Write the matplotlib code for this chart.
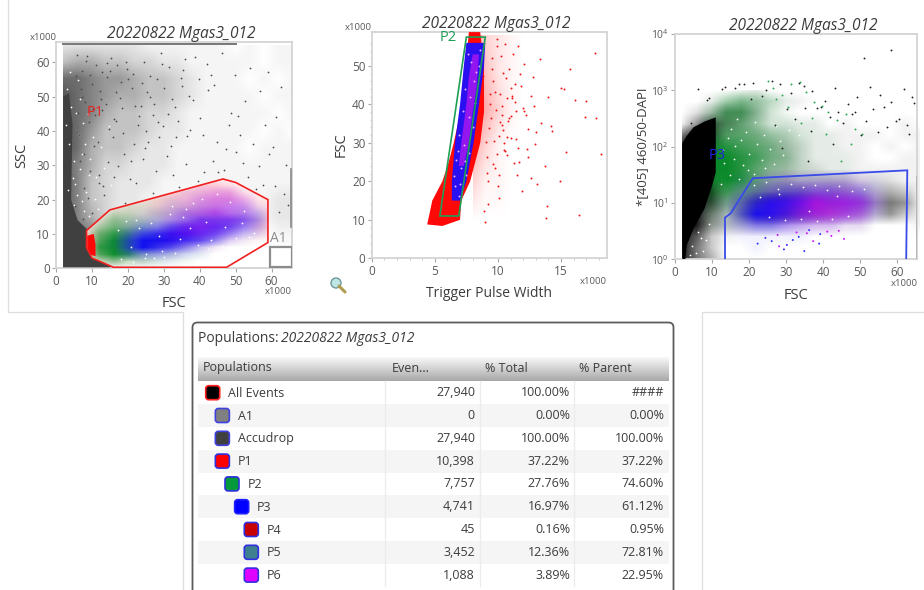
import numpy as np
import matplotlib
matplotlib.use('Agg')
import matplotlib.pyplot as plt
from matplotlib.colors import to_rgb
from matplotlib.patches import FancyBboxPatch, Polygon, Rectangle, Circle

plt.rcParams['font.family'] = ['Open Sans', 'DejaVu Sans']

TITLE = '20220822 Mgas3_012'
TEXT = '#3c3c3c'
TICK = '#5a5a5a'
FRAME = '#d4d4d4'

# ----- gates (data units) -----
P1_GATE_X = [8.5, 15, 46.5, 50, 59, 59, 47.5, 16, 10, 8.5]
P1_GATE_Y = [11, 17, 26, 25, 20, 7.5, 0.3, 0.3, 3, 6]
P2_GATE_X = [5.4, 6.9, 9.0, 7.5]
P2_GATE_Y = [11, 11, 57.5, 57.5]
P3_GATE_X = [13.5, 13.5, 15, 21, 62.7, 62.4]
P3_GATE_Y = [1, 5.5, 6.5, 27.5, 38, 1]

# ----- panel 1: density read per grid node, rows from SSC=0 upwards -----
P1_X = [2, 6, 10, 14, 18, 22, 26, 30, 34, 38, 42, 46, 50, 54, 58, 62, 66]
P1_Y = [0, 5, 10, 15, 20, 25, 30, 35, 40, 45, 50, 55, 60, 65]
P1_GREY = [
    [9, 9, 9, 9, 2, 0, 0, 0, 0, 0, 0, 0, 0, 0, 0, 0, 0],
    [9, 9, 9, 6, 0, 0, 0, 0, 0, 0, 0, 0, 0, 0, 0, 0, 0],
    [9, 8, 7, 2, 0, 0, 0, 0, 0, 0, 0, 0, 0, 0, 0, 1, 1],
    [9, 7, 5, 3, 1, 0, 0, 0, 0, 0, 0, 0, 0, 0, 1, 2, 2],
    [9, 7, 4, 3, 2, 2, 1, 1, 0, 0, 0, 0, 0, 1, 1, 2, 2],
    [9, 7, 4, 3, 2, 2, 2, 1, 1, 1, 1, 1, 1, 1, 1, 1, 1],
    [9, 7, 5, 3, 3, 2, 2, 2, 1, 1, 1, 1, 1, 1, 1, 1, 1],
    [9, 8, 5, 4, 4, 3, 2, 2, 1, 1, 1, 1, 1, 0, 1, 1, 1],
    [9, 8, 6, 4, 4, 4, 3, 2, 2, 1, 1, 1, 1, 1, 0, 1, 0],
    [9, 8, 7, 5, 4, 4, 3, 3, 2, 1, 1, 1, 1, 1, 1, 0, 1],
    [9, 8, 7, 6, 5, 5, 4, 4, 3, 2, 1, 1, 1, 1, 0, 1, 1],
    [8, 8, 7, 6, 6, 5, 4, 4, 3, 2, 1, 1, 1, 0, 1, 0, 1],
    [4, 5, 5, 4, 4, 3, 3, 2, 2, 1, 1, 1, 1, 1, 0, 1, 1],
    [2, 2, 2, 2, 2, 2, 1, 1, 1, 1, 1, 1, 0, 1, 0, 1, 1],
]

P1C_X = [8, 12, 16, 20, 24, 28, 32, 36, 40, 44, 48, 52, 56, 60]
P1C_Y = [0, 2, 4, 6, 8, 10, 12, 14, 16, 18, 20, 22, 24, 26]
P1_RED = [
    [0, 0, 1, 0, 0, 0, 0, 0, 0, 0, 0, 0, 0, 0],
    [0, 2, 2, 1, 1, 0, 0, 0, 0, 0, 0, 0, 0, 0],
    [2, 3, 2, 1, 1, 1, 1, 0, 0, 0, 0, 0, 0, 0],
    [4, 3, 2, 1, 1, 1, 1, 1, 1, 1, 0, 0, 0, 0],
    [4, 3, 2, 1, 1, 1, 1, 1, 1, 1, 1, 1, 1, 1],
    [3, 3, 2, 2, 1, 1, 1, 1, 1, 1, 1, 1, 2, 2],
    [2, 2, 2, 2, 1, 1, 2, 2, 1, 1, 1, 1, 3, 3],
    [0, 2, 2, 2, 2, 2, 2, 2, 2, 2, 2, 2, 3, 3],
    [0, 1, 2, 2, 2, 3, 3, 3, 3, 3, 2, 2, 2, 3],
    [0, 0, 2, 2, 2, 3, 3, 3, 3, 3, 2, 2, 2, 2],
    [0, 0, 0, 1, 2, 3, 3, 3, 3, 3, 3, 2, 2, 2],
    [0, 0, 0, 0, 0, 2, 3, 3, 3, 3, 3, 2, 1, 0],
    [0, 0, 0, 0, 0, 0, 1, 2, 3, 3, 2, 1, 0, 0],
    [0, 0, 0, 0, 0, 0, 0, 0, 0, 1, 1, 0, 0, 0],
]
P1_GREEN = [
    [0, 0, 0, 1, 0, 0, 0, 0, 0, 0, 0, 0, 0, 0],
    [0, 3, 5, 3, 3, 2, 1, 1, 0, 0, 0, 0, 0, 0],
    [0, 7, 9, 8, 4, 2, 2, 1, 1, 0, 0, 0, 0, 0],
    [0, 8, 9, 8, 4, 2, 1, 1, 0, 0, 0, 0, 0, 0],
    [0, 7, 9, 8, 4, 2, 1, 0, 0, 0, 0, 0, 0, 0],
    [0, 6, 8, 7, 4, 2, 1, 1, 0, 0, 0, 0, 0, 0],
    [0, 4, 6, 5, 4, 2, 1, 1, 0, 0, 0, 0, 0, 0],
    [0, 2, 5, 4, 3, 2, 1, 1, 1, 1, 0, 0, 0, 0],
    [0, 0, 3, 3, 2, 2, 1, 1, 1, 0, 0, 0, 0, 0],
    [0, 0, 0, 2, 2, 1, 1, 1, 0, 0, 0, 0, 0, 0],
    [0, 0, 0, 1, 1, 1, 1, 0, 0, 0, 0, 0, 0, 0],
    [0, 0, 0, 0, 0, 0, 0, 0, 0, 0, 0, 0, 0, 0],
    [0, 0, 0, 0, 0, 0, 0, 0, 0, 0, 0, 0, 0, 0],
    [0, 0, 0, 0, 0, 0, 0, 0, 0, 0, 0, 0, 0, 0],
]
P1_BLUE = [
    [0, 0, 0, 0, 0, 0, 0, 0, 0, 0, 0, 0, 0, 0],
    [0, 0, 0, 0, 1, 1, 1, 0, 0, 0, 0, 0, 0, 0],
    [0, 0, 0, 3, 4, 4, 3, 2, 1, 0, 0, 0, 0, 0],
    [0, 0, 1, 6, 9, 8, 7, 5, 3, 1, 0, 0, 0, 0],
    [0, 0, 1, 6, 9, 9, 9, 8, 7, 5, 2, 1, 0, 0],
    [0, 0, 0, 4, 7, 8, 9, 9, 8, 7, 5, 3, 2, 0],
    [0, 0, 0, 2, 4, 5, 7, 8, 8, 8, 7, 5, 3, 0],
    [0, 0, 0, 1, 2, 3, 4, 5, 7, 7, 7, 6, 4, 0],
    [0, 0, 0, 0, 1, 2, 3, 4, 4, 5, 4, 4, 3, 0],
    [0, 0, 0, 0, 0, 1, 2, 2, 3, 3, 3, 3, 1, 0],
    [0, 0, 0, 0, 0, 0, 1, 1, 2, 2, 2, 1, 0, 0],
    [0, 0, 0, 0, 0, 0, 0, 1, 1, 1, 1, 0, 0, 0],
    [0, 0, 0, 0, 0, 0, 0, 0, 0, 0, 0, 0, 0, 0],
    [0, 0, 0, 0, 0, 0, 0, 0, 0, 0, 0, 0, 0, 0],
]
P1_MAGENTA = [
    [0, 0, 0, 0, 0, 0, 0, 0, 0, 0, 0, 0, 0, 0],
    [0, 0, 0, 0, 0, 0, 0, 0, 0, 0, 0, 0, 0, 0],
    [0, 0, 0, 0, 0, 0, 0, 0, 0, 0, 0, 0, 0, 0],
    [0, 0, 0, 0, 0, 1, 1, 1, 0, 0, 0, 0, 0, 0],
    [0, 0, 0, 0, 0, 1, 2, 2, 2, 1, 1, 0, 0, 0],
    [0, 0, 0, 0, 0, 1, 3, 4, 4, 3, 2, 1, 0, 0],
    [0, 0, 0, 0, 0, 1, 2, 4, 5, 4, 3, 2, 1, 0],
    [0, 0, 0, 0, 0, 0, 2, 3, 4, 4, 4, 3, 1, 0],
    [0, 0, 0, 0, 0, 0, 1, 3, 4, 5, 4, 3, 1, 0],
    [0, 0, 0, 0, 0, 0, 1, 2, 3, 4, 4, 3, 1, 0],
    [0, 0, 0, 0, 0, 0, 1, 2, 3, 4, 4, 3, 0, 0],
    [0, 0, 0, 0, 0, 0, 0, 1, 2, 3, 3, 1, 0, 0],
    [0, 0, 0, 0, 0, 0, 0, 0, 1, 1, 1, 0, 0, 0],
    [0, 0, 0, 0, 0, 0, 0, 0, 0, 0, 0, 0, 0, 0],
]

# solid part of the cloud
P1_SOLID_X = [2, 2, 3.6, 4.6, 4.2, 6, 9, 11, 13, 15.5, 15, 2]
P1_SOLID_Y = [0.3, 50, 51, 42, 20, 14, 11, 10, 6, 1, 0.3, 0.3]
P1_RED_SOLID_X = [8.7, 10.5, 11, 11, 9.5, 8.7]
P1_RED_SOLID_Y = [9.5, 10, 7, 3.5, 4, 6]

P1_DOTS_X = [5.8, 7.1, 8.4, 9.9, 11.2, 12.6, 14.1, 15.3, 16.8, 18.4, 19.7, 21.2, 23.1, 24.6, 26.3, 28.2, 29.7,
             31.4, 33.2, 35.1, 36.6, 38.7, 40.2, 42.4, 44.8, 46.3, 48.6, 50.2, 52.7, 54.1, 56.4, 58.2, 60.3, 62.6,
             6.6, 9.2, 12.1, 15.9, 18.9, 22.4, 25.7, 27.9, 30.8, 34.3, 37.4, 41.1, 43.6, 47.2, 49.8, 53.4, 57.6, 61.2, 64.1,
             7.7, 10.6, 13.4, 17.3, 20.6, 24.1, 27.1, 32.6, 36.1, 39.4, 45.2, 51.3, 55.6, 59.4, 63.4,
             5.2, 8.9, 11.9, 14.8, 19.2, 23.6, 28.8, 33.9, 38.2, 43.1, 48.1, 54.8, 60.9, 64.6,
             6.1, 10.1, 16.2, 21.8, 26.9, 31.9, 40.8, 46.9, 52.1, 58.9, 62.1,
             7.4, 12.9, 18.1, 25.1, 29.1, 35.8, 42.1, 50.7, 56.9,
             6.9, 8.1, 9.6, 10.9, 12.3, 13.9, 15.1, 16.7, 17.9, 20.1, 22.1, 23.9, 25.4, 27.3, 30.1, 32.4, 34.8, 37.1,
             6.3, 7.9, 9.4, 11.6, 13.1, 14.6, 16.1, 18.6, 20.9, 22.8, 24.9, 28.4, 31.1, 33.4,
             5.6, 7.2, 8.6, 10.4, 12.7, 14.3, 17.1, 19.4, 21.4, 26.1, 29.4, 35.4, 39.9, 44.1]
P1_DOTS_Y = [62.1, 57.3, 60.4, 53.8, 59.1, 49.2, 55.7, 61.3, 51.2, 46.8, 57.9, 52.4, 44.2, 60.2, 49.9, 55.1, 41.3,
             58.6, 47.1, 53.2, 38.6, 61.4, 43.9, 51.8, 36.7, 62.8, 45.3, 33.9, 48.7, 58.3, 29.8, 41.6, 35.2, 52.9,
             31.2, 42.7, 27.3, 38.1, 33.4, 24.8, 36.9, 28.4, 32.7, 23.6, 40.2, 27.9, 31.1, 34.8, 56.2, 26.7, 24.2, 44.1, 30.2,
             23.4, 35.6, 21.2, 29.7, 26.1, 31.8, 21.9, 27.2, 30.4, 25.3, 28.1, 38.7, 23.1, 33.2, 21.7,
             18.2, 20.4, 24.7, 40.6, 18.9, 47.3, 38.2, 42.8, 49.1, 56.4, 41.7, 36.3, 24.1, 18.3,
             45.1, 16.2, 43.4, 36.1, 44.7, 35.7, 38.9, 28.7, 30.6, 57.2, 16.4,
             14.3, 46.2, 54.3, 40.1, 62.7, 60.8, 59.4, 44.3, 51.7,
             52.1, 48.3, 56.2, 44.6, 51.6, 47.9, 57.3, 42.8, 49.7, 55.1, 47.2, 53.9, 51.4, 47.8, 52.6, 49.3, 55.4, 50.1,
             38.7, 33.2, 28.4, 36.8, 24.1, 30.9, 26.7, 39.4, 31.3, 41.8, 35.1, 42.6, 44.9, 38.1,
             55.9, 49.8, 61.7, 46.3, 57.1, 59.8, 59.2, 60.1, 56.7, 55.9, 59.4, 57.6, 55.1, 53.3]
# white gaps in the dense clouds
P1_HOLE_X = [3.1, 4.2, 2.8, 3.7, 5.1, 4.6, 3.3, 5.7, 6.4, 7.3, 5.4, 6.8, 8.2, 4.9, 7.6, 9.1, 3.9, 6.2, 8.8, 10.3,
             5.9, 7.1, 9.6, 11.2, 12.4, 6.6, 8.4, 10.8, 13.3, 14.7, 7.9, 9.3, 11.7, 15.2,
             18.2, 21.4, 24.7, 19.6, 23.1, 27.3, 22.2, 26.4, 30.2, 20.8, 25.1, 29.4, 33.1, 36.2, 39.4, 43.2, 31.7, 35.3,
             38.1, 42.4, 46.3, 50.1, 53.8, 34.6, 40.7, 44.7, 48.4, 52.3, 37.2, 41.8, 47.1, 51.7, 55.2, 17.3, 28.6, 32.4]
P1_HOLE_Y = [52.3, 47.1, 41.8, 36.3, 31.2, 26.4, 22.7, 45.2, 38.7, 33.4, 24.6, 28.9, 36.1, 18.4, 42.3, 27.1, 57.2, 54.7, 44.8, 38.2,
             21.3, 19.6, 31.8, 26.7, 35.4, 49.2, 22.1, 20.2, 29.3, 41.4, 16.7, 15.2, 17.3, 24.2,
             2.6, 1.8, 3.1, 13.7, 11.8, 2.9, 14.2, 13.1, 3.4, 6.3, 4.2, 5.1, 4.6, 17.3, 6.8, 8.1, 15.8, 14.9,
             18.9, 5.6, 6.4, 8.7, 9.1, 8.4, 20.3, 21.6, 19.2, 16.7, 11.6, 13.4, 11.9, 13.1, 10.4, 11.1, 9.4, 18.2]
P1_TOP_X = [2, 50]
P1_TOP_Y = [65.2, 65.2]
P1_RIGHT_X = [65.3, 65.3]
P1_RIGHT_Y = [12, 29]

# ----- panel 2 -----
P2_RED_CORE_X = [4.4, 4.8, 5.6, 6.1, 6.5, 6.9, 7.3, 7.7, 8.6, 8.9, 8.9, 8.6, 8.2, 7.8, 7.1, 7.0, 5.6]
P2_RED_CORE_Y = [8.8, 15, 20, 25, 30, 36, 44, 58.8, 58.8, 50, 38, 30, 25, 20, 15, 10, 8.4]
P2_BLUE_X = [6.35, 6.35, 6.6, 7.0, 7.3, 7.5, 9.0, 8.9, 8.5, 8.07, 7.5, 7.0]
P2_BLUE_Y = [15, 20, 30, 40, 50, 56, 56, 50, 40, 30, 20, 15]
P2_MAG_X = [6.9, 7.1, 7.5, 7.7, 8.0, 8.5, 8.3, 8.0, 7.7, 7.3]
P2_MAG_Y = [24, 30, 40, 47, 53, 53, 44, 38, 30, 24]

P2_GX = [8, 9, 10, 11, 12]
P2_GY = [10, 20, 30, 40, 50, 58]
P2_HAZE = [
    [0, 0, 0, 0, 0],
    [3, 1, 1, 0, 0],
    [5, 3, 1, 0, 0],
    [6, 5, 3, 1, 0],
    [5, 4, 2, 1, 0],
    [6, 3, 2, 1, 0],
]

P2_DOTS_X = [9.2, 9.5, 9.8, 10.1, 10.4, 10.6, 10.9, 11.2, 11.5, 11.8, 12.1, 12.4, 12.8, 13.1, 13.4, 13.9, 14.0, 14.3,
             14.9, 15.2, 15.4, 15.7, 16.1, 16.4, 16.9, 17.0, 17.7, 17.8, 18.2, 9.1, 9.4, 9.7, 10.0, 10.3, 10.7, 11.0,
             11.3, 11.6, 12.0, 12.3, 12.6, 13.0, 13.3, 9.3, 9.6, 9.9, 10.2, 10.5, 10.8, 11.1, 11.4, 11.7, 8.9, 9.0,
             8.8, 9.9, 10.3, 11.9, 12.2, 12.9, 13.8, 14.2, 15.0, 13.7,
             9.15, 9.45, 9.75, 10.05, 10.35, 10.65, 9.25, 9.55, 9.85, 10.15, 10.45, 10.75, 11.05, 11.35, 9.05, 9.35, 9.65, 9.95,
             10.25, 10.55, 10.85, 11.15, 11.45, 11.75, 12.05, 12.35, 12.65, 12.95, 10.12, 10.42, 10.72, 11.02, 11.32, 11.62]
P2_DOTS_Y = [14.2, 52.1, 23.4, 15.8, 48.2, 27.9, 36.4, 53.1, 21.6, 44.8, 50.4, 26.3, 47.1, 19.4, 35.2, 13.7, 41.9, 33.1,
             20.1, 43.9, 27.6, 49.1, 41.1, 11.2, 36.7, 40.9, 53.4, 36.5, 27.1, 22.2, 40.1, 30.4, 18.9, 37.2, 31.6, 44.2,
             24.8, 55.1, 39.1, 28.4, 20.9, 32.8, 51.7, 33.8, 46.1, 27.1, 42.6, 29.9, 35.6, 42.1, 38.2, 25.1, 12.3, 9.4,
             47.4, 57.1, 34.6, 17.4, 37.2, 39.6, 10.6, 34.3, 44.3, 24.1,
             26.3, 36.4, 43.2, 31.7, 39.6, 46.8, 20.1, 49.2, 38.6, 35.3, 28.2, 41.7, 37.1, 45.2, 30.2, 42.8, 24.6, 55.3,
             52.7, 55.8, 49.3, 41.6, 30.9, 47.8, 38.4, 33.7, 42.3, 29.8, 21.7, 33.3, 26.8, 31.2, 40.7, 28.7]
P2_HOLE_X = [7.6, 7.9, 8.3, 7.4, 7.8, 8.1, 8.5, 7.2, 7.7, 8.0, 6.9, 7.3, 7.7, 6.7, 7.1, 7.5, 6.6, 6.9, 8.6, 8.2, 7.0, 7.4, 6.5, 6.8]
P2_HOLE_Y = [53, 51, 48.5, 44, 42, 46, 50, 38.2, 36.7, 34.1, 32.1, 29.4, 27.3, 25.6, 23.4, 21.7, 18.9, 16.3, 54.2, 40.3, 19.2, 25.4, 21.3, 27.8]

# ----- panel 3: rows from 10^0 upwards in 0.2 decade steps -----
P3_X = [2, 6, 10, 14, 18, 22, 26, 30, 34, 38, 42, 46, 50, 54, 58, 62, 66]
P3_Y = [1, 1.6, 2.5, 4, 6.3, 10, 16, 25, 40, 63, 100, 160, 250, 400, 630, 1000]
P3_BLACK = [
    [9, 6, 4, 0, 0, 0, 0, 0, 0, 0, 0, 0, 0, 0, 0, 0, 0],
    [9, 6, 3, 0, 0, 0, 0, 0, 0, 0, 0, 0, 0, 0, 0, 0, 0],
    [9, 7, 3, 1, 0, 0, 0, 0, 0, 0, 0, 0, 0, 0, 0, 0, 0],
    [9, 9, 5, 3, 3, 2, 2, 1, 1, 1, 1, 1, 1, 0, 0, 0, 1],
    [9, 9, 6, 3, 5, 6, 7, 7, 6, 5, 4, 3, 3, 3, 5, 3, 1],
    [9, 9, 8, 4, 5, 7, 8, 8, 7, 6, 5, 4, 4, 4, 6, 5, 1],
    [9, 9, 9, 4, 4, 5, 5, 5, 5, 4, 4, 4, 3, 3, 4, 3, 1],
    [9, 9, 9, 3, 3, 4, 4, 4, 3, 3, 3, 3, 2, 2, 2, 1, 1],
    [9, 9, 9, 3, 3, 3, 3, 3, 2, 2, 1, 1, 1, 1, 1, 1, 1],
    [9, 9, 9, 3, 3, 3, 3, 3, 2, 1, 1, 1, 1, 0, 0, 1, 1],
    [9, 9, 9, 3, 3, 3, 3, 3, 2, 1, 1, 1, 1, 0, 1, 0, 1],
    [6, 9, 9, 4, 3, 3, 2, 2, 1, 1, 1, 1, 1, 1, 0, 1, 1],
    [1, 5, 8, 6, 4, 2, 1, 1, 1, 1, 0, 1, 0, 0, 0, 1, 0],
    [0, 2, 3, 5, 5, 3, 1, 0, 0, 0, 0, 0, 0, 0, 0, 0, 0],
    [0, 0, 1, 1, 2, 2, 1, 1, 1, 0, 0, 0, 0, 0, 0, 0, 0],
    [0, 0, 0, 0, 0, 1, 0, 0, 0, 0, 0, 0, 0, 0, 0, 0, 0],
]
P3_GREEN = [
    [0, 0, 0, 0, 0, 0, 0, 0, 0, 0, 0, 0, 0, 0, 0, 0, 0],
    [0, 0, 0, 0, 0, 0, 0, 0, 0, 0, 0, 0, 0, 0, 0, 0, 0],
    [0, 0, 0, 0, 0, 0, 0, 0, 0, 0, 0, 0, 0, 0, 0, 0, 0],
    [0, 0, 1, 1, 0, 0, 0, 0, 0, 0, 0, 0, 0, 0, 0, 0, 0],
    [0, 0, 2, 2, 1, 0, 0, 0, 0, 0, 0, 0, 0, 0, 0, 0, 0],
    [0, 0, 3, 4, 2, 1, 0, 0, 0, 0, 0, 0, 0, 0, 0, 0, 0],
    [0, 0, 5, 7, 5, 3, 1, 0, 0, 0, 0, 0, 0, 0, 0, 0, 0],
    [0, 0, 8, 9, 8, 5, 2, 1, 1, 1, 1, 0, 0, 0, 0, 0, 0],
    [0, 0, 9, 9, 8, 6, 4, 3, 2, 1, 1, 1, 0, 0, 0, 0, 0],
    [0, 0, 9, 9, 8, 7, 5, 4, 2, 1, 1, 1, 0, 0, 0, 0, 0],
    [0, 0, 8, 8, 7, 6, 5, 3, 2, 1, 1, 0, 0, 0, 0, 0, 0],
    [0, 0, 5, 6, 6, 5, 4, 3, 2, 1, 1, 0, 0, 0, 0, 0, 0],
    [0, 0, 3, 5, 5, 4, 2, 2, 1, 1, 0, 0, 0, 0, 0, 0, 0],
    [0, 0, 3, 6, 6, 4, 2, 1, 0, 0, 0, 0, 0, 0, 0, 0, 0],
    [0, 0, 1, 4, 5, 4, 3, 1, 0, 0, 0, 0, 0, 0, 0, 0, 0],
    [0, 0, 0, 0, 1, 1, 0, 0, 0, 0, 0, 0, 0, 0, 0, 0, 0],
]
P3_BLUE = [
    [0, 0, 0, 0, 0, 0, 0, 0, 0, 0, 0, 0, 0, 0, 0, 0, 0],
    [0, 0, 0, 0, 0, 1, 0, 0, 0, 0, 0, 0, 0, 0, 0, 0, 0],
    [0, 0, 0, 0, 1, 1, 1, 1, 1, 0, 0, 0, 0, 0, 0, 0, 0],
    [0, 0, 0, 1, 3, 5, 5, 4, 3, 2, 2, 1, 1, 0, 0, 0, 0],
    [0, 0, 0, 1, 5, 9, 9, 8, 7, 6, 5, 5, 4, 2, 0, 0, 0],
    [0, 0, 0, 1, 4, 7, 9, 9, 9, 8, 7, 7, 6, 3, 0, 0, 0],
    [0, 0, 0, 0, 2, 3, 4, 5, 5, 5, 5, 4, 4, 2, 0, 0, 0],
    [0, 0, 0, 0, 1, 1, 2, 2, 2, 2, 2, 2, 1, 1, 0, 0, 0],
    [0, 0, 0, 0, 0, 0, 0, 0, 0, 0, 0, 0, 0, 0, 0, 0, 0],
    [0, 0, 0, 0, 0, 0, 0, 0, 0, 0, 0, 0, 0, 0, 0, 0, 0],
    [0, 0, 0, 0, 0, 0, 0, 0, 0, 0, 0, 0, 0, 0, 0, 0, 0],
    [0, 0, 0, 0, 0, 0, 0, 0, 0, 0, 0, 0, 0, 0, 0, 0, 0],
    [0, 0, 0, 0, 0, 0, 0, 0, 0, 0, 0, 0, 0, 0, 0, 0, 0],
    [0, 0, 0, 0, 0, 0, 0, 0, 0, 0, 0, 0, 0, 0, 0, 0, 0],
    [0, 0, 0, 0, 0, 0, 0, 0, 0, 0, 0, 0, 0, 0, 0, 0, 0],
    [0, 0, 0, 0, 0, 0, 0, 0, 0, 0, 0, 0, 0, 0, 0, 0, 0],
]
P3_MAGENTA = [
    [0, 0, 0, 0, 0, 0, 0, 0, 0, 0, 0, 0, 0, 0, 0, 0, 0],
    [0, 0, 0, 0, 0, 0, 0, 0, 0, 0, 0, 0, 0, 0, 0, 0, 0],
    [0, 0, 0, 0, 0, 0, 0, 0, 0, 0, 0, 0, 0, 0, 0, 0, 0],
    [0, 0, 0, 0, 0, 1, 1, 2, 2, 2, 2, 1, 1, 0, 0, 0, 0],
    [0, 0, 0, 0, 0, 1, 2, 3, 5, 6, 6, 5, 4, 1, 0, 0, 0],
    [0, 0, 0, 0, 0, 1, 2, 3, 5, 7, 6, 6, 5, 2, 0, 0, 0],
    [0, 0, 0, 0, 0, 0, 1, 1, 2, 3, 3, 3, 2, 1, 0, 0, 0],
    [0, 0, 0, 0, 0, 0, 0, 1, 1, 1, 1, 1, 1, 0, 0, 0, 0],
    [0, 0, 0, 0, 0, 0, 0, 0, 0, 0, 0, 0, 0, 0, 0, 0, 0],
    [0, 0, 0, 0, 0, 0, 0, 0, 0, 0, 0, 0, 0, 0, 0, 0, 0],
    [0, 0, 0, 0, 0, 0, 0, 0, 0, 0, 0, 0, 0, 0, 0, 0, 0],
    [0, 0, 0, 0, 0, 0, 0, 0, 0, 0, 0, 0, 0, 0, 0, 0, 0],
    [0, 0, 0, 0, 0, 0, 0, 0, 0, 0, 0, 0, 0, 0, 0, 0, 0],
    [0, 0, 0, 0, 0, 0, 0, 0, 0, 0, 0, 0, 0, 0, 0, 0, 0],
    [0, 0, 0, 0, 0, 0, 0, 0, 0, 0, 0, 0, 0, 0, 0, 0, 0],
    [0, 0, 0, 0, 0, 0, 0, 0, 0, 0, 0, 0, 0, 0, 0, 0, 0],
]
P3_SOLID_X = [2, 2, 3, 5, 8, 11, 11, 10, 8, 5, 3.2, 2.8, 2]
P3_SOLID_Y = [1, 115, 150, 220, 280, 330, 35, 20, 8, 3.5, 1.8, 1, 1]

P3_DOTS_X = [6.1, 9.2, 12.8, 17.4, 21.1, 24.6, 28.3, 31.2, 34.7, 37.1, 40.6, 43.2, 46.8, 49.1, 52.7, 55.4, 58.2, 61.8, 64.1,
             27.1, 32.4, 36.8, 41.9, 45.3, 48.7, 51.6, 54.9, 57.2, 60.4, 63.1, 35.2, 39.4, 44.1, 47.9, 53.4, 56.3, 59.6, 62.5,
             18.6, 23.4, 26.2, 30.1, 33.6, 38.2, 42.7, 50.3, 58.3, 50.9, 8.6, 4.2, 16.3, 20.4, 64.6, 28.9, 35.9, 13.6]
P3_DOTS_Y = [1060, 720, 1050, 1280, 1350, 1010, 1300, 890, 1200, 990, 640, 1120, 580, 760, 1140, 820, 620, 1050, 770,
             240, 310, 190, 330, 260, 410, 290, 180, 220, 310, 170, 480, 510, 420, 380, 460, 500, 290, 240,
             1300, 800, 1450, 470, 1330, 480, 110, 160, 5200, 3800, 660, 260, 1100, 700, 600, 95, 55, 1150]
P3_GDOTS_X = [26.4, 28.9, 31.2, 33.7, 35.4, 37.6, 39.8, 41.3, 43.8, 46.2, 48.7, 50.4, 27.3, 30.6, 34.1, 36.9, 40.7, 44.9, 47.4, 25.2]
P3_GDOTS_Y = [1120, 840, 1290, 1430, 940, 620, 530, 420, 300, 380, 210, 170, 690, 510, 260, 320, 170, 55, 110, 1450]
P3_FAINT_X = [27.7, 31.8, 35.6, 38.9, 42.2, 45.6, 30.2, 33.4, 37.3, 41.1, 24.4, 28.1, 22.3, 26.1, 29.4, 32.8, 39.2, 44.2, 34.9, 36.2]
P3_FAINT_Y = [2.7, 2.2, 2.9, 1.9, 2.6, 2.3, 1.8, 2.5, 2.1, 3.1, 2.4, 1.7, 1.9, 2.1, 1.5, 3.0, 2.8, 3.2, 1.4, 3.3]
P3_FAINT_COL = ['#c814ff', '#3030ff', '#c814ff', '#3030ff', '#c814ff', '#c814ff', '#3030ff', '#3030ff', '#c814ff', '#c814ff',
                '#3030ff', '#c814ff', '#3030ff', '#3030ff', '#3030ff', '#c814ff', '#3030ff', '#c814ff', '#3030ff', '#3030ff']
P3_HOLE_X = [12.4, 14.8, 17.2, 19.6, 13.1, 15.9, 18.4, 21.3, 24.2, 12.9, 16.2, 20.1, 23.4, 26.7, 14.3, 17.8, 22.1, 25.6, 29.1, 15.1,
             19.2, 23.9, 28.4, 16.6, 21.7, 27.2, 30.9, 33.4, 8.4, 6.3, 4.7, 7.5, 5.6, 9.2, 6.9, 4.1,
             21.4, 24.6, 27.9, 31.2, 34.5, 37.8, 41.1, 44.4, 47.7, 51.0, 25.3, 29.6, 33.9, 38.2, 42.5, 46.8, 22.9, 28.2, 36.1, 43.7]
P3_HOLE_Y = [22, 31, 27, 38, 52, 61, 47, 33, 41, 88, 104, 73, 58, 49, 145, 131, 112, 91, 71, 205,
             182, 161, 124, 310, 270, 232, 196, 158, 2.2, 3.1, 1.7, 1.4, 1.3, 4.3, 2.4, 1.2,
             21, 24, 18, 22, 19, 21, 17, 20, 16, 18, 5.6, 4.9, 5.3, 4.7, 5.1, 5.9, 12.8, 14.2, 7.3, 13.4]
P3_RIGHT_X = [65.2, 65.2]
P3_RIGHT_Y = [1, 30]

# ----- populations table -----
POP_NAMES = ['All Events', 'A1', 'Accudrop', 'P1', 'P2', 'P3', 'P4', 'P5', 'P6']
POP_EVENTS = ['27,940', '0', '27,940', '10,398', '7,757', '4,741', '45', '3,452', '1,088']
POP_TOTAL = ['100.00%', '0.00%', '100.00%', '37.22%', '27.76%', '16.97%', '0.16%', '12.36%', '3.89%']
POP_PARENT = ['####', '0.00%', '100.00%', '37.22%', '74.60%', '61.12%', '0.95%', '72.81%', '22.95%']
POP_INDENT = [0, 1, 1, 1, 2, 3, 4, 4, 4]
POP_FILL = ['#000000', '#808080', '#404040', '#ff0000', '#009a3c', '#0000ff', '#c80000', '#3f8090', '#e000ff']
POP_EDGE = ['#ff2020', '#4040e0', '#4040e0', '#3030e0', '#3030e0', '#2020ff', '#3030e0', '#3030e0', '#3030e0']
HEADERS = ['Populations', 'Even...', '% Total', '% Parent']


def pixel_axes(fig, left, top, right, bottom):
    return fig.add_axes([left / 924, 1 - bottom / 590, (right - left) / 924, (bottom - top) / 590])


def density(ax, x, y, grid, color, scale=1.0, clip=None, zorder=2):
    # grid values are read at the nodes, 0 = nothing, 9 = full
    rgba = np.zeros((len(y), len(x), 4))
    rgba[..., :3] = to_rgb(color)
    rgba[..., 3] = (np.array(grid) / 9) ** 1.3 * scale
    dx = (x[1] - x[0]) / 2
    dy = (y[1] - y[0]) / 2
    im = ax.imshow(rgba, origin='lower', aspect='auto', interpolation='bilinear', zorder=zorder,
                   extent=(x[0] - dx, x[-1] + dx, y[0] - dy, y[-1] + dy))
    if clip is None:
        clip = Rectangle((x[0], y[0]), x[-1] - x[0], y[-1] - y[0], transform=ax.transData)
    im.set_clip_path(clip)


def style_axes(ax):
    for s in ax.spines.values():
        s.set_color(FRAME)
        s.set_linewidth(1.3)
    ax.tick_params(which='major', length=3, width=0.8, color='#a8a8a8', labelcolor=TICK, labelsize=8.5, pad=1.5)
    ax.tick_params(which='minor', length=1.5, width=0.6, color='#c0c0c0')
    ax.set_title(TITLE, style='italic', fontsize=11.2, color=TEXT, pad=1.5, x=0.53)


fig = plt.figure(figsize=(9.24, 5.9), dpi=100)

# background layer, pixel coordinates
bg = fig.add_axes([0, 0, 1, 1])
bg.axis('off')
bg.plot([8, 8, 183, 183], [0, 312, 312, 590], color='#dedede', lw=0.9)
bg.plot([924, 702, 702], [312, 312, 590], color='#dedede', lw=0.9)

# magnifier icon
bg.plot([339, 345], [286, 292], color='#b09a50', lw=2.2, solid_capstyle='round')
bg.add_patch(Circle((336, 283), 5, facecolor='#bfe6e6', edgecolor='#6f9a9a', lw=1))

# ----- FSC / SSC -----
ax1 = pixel_axes(fig, 56, 42.3, 292, 268.3)
style_axes(ax1)
gate1 = Polygon(np.column_stack([P1_GATE_X, P1_GATE_Y]), closed=True, fill=False, edgecolor='#f02020', lw=1.2, zorder=6)
ax1.add_patch(gate1)
density(ax1, P1_X, P1_Y, P1_GREY, '#404040', scale=0.9)
ax1.fill(P1_SOLID_X, P1_SOLID_Y, color='#404040', lw=0, zorder=3)
ax1.scatter(P1_HOLE_X[:34], P1_HOLE_Y[:34], s=1.6, color='white', lw=0, zorder=3)
ax1.scatter(P1_DOTS_X, P1_DOTS_Y, s=1.6, color='#4a4a4a', lw=0, zorder=3)
ax1.plot(P1_TOP_X, P1_TOP_Y, color='#777777', lw=1.4, zorder=3)
ax1.plot(P1_RIGHT_X, P1_RIGHT_Y, color='#888888', lw=1.2, zorder=3)
ax1.add_patch(Polygon(np.column_stack([P1_GATE_X, P1_GATE_Y]), closed=True, facecolor='white', edgecolor='none', zorder=3))
density(ax1, P1C_X, P1C_Y, P1_RED, '#ff2020', scale=0.8, clip=gate1, zorder=4)
density(ax1, P1C_X, P1C_Y, P1_GREEN, '#0d8f2c', clip=gate1, zorder=4)
density(ax1, P1C_X, P1C_Y, P1_BLUE, '#1010f0', clip=gate1, zorder=4)
density(ax1, P1C_X, P1C_Y, P1_MAGENTA, '#d010f0', clip=gate1, zorder=5)
ax1.scatter(P1_HOLE_X[34:], P1_HOLE_Y[34:], s=1.6, color='white', lw=0, zorder=5)
ax1.fill(P1_RED_SOLID_X, P1_RED_SOLID_Y, color='#ff0808', lw=0, zorder=5)
ax1.add_patch(Rectangle((59.6, 0.4), 6, 5.7, fill=False, edgecolor='#8c8c8c', lw=1.6, zorder=6))
ax1.text(59.6, 8.7, 'A1', color='#8c8c8c', fontsize=10, va='center', zorder=7)
ax1.text(8.5, 45.5, 'P1', color='#e82020', fontsize=10.5, va='center', zorder=7)
ax1.set_xlim(0, 65.7)
ax1.set_ylim(0, 65.8)
ax1.set_xticks(range(0, 61, 10))
ax1.set_yticks(range(0, 61, 10))
ax1.set_xlabel('FSC', fontsize=10.5, color=TEXT, labelpad=6)
ax1.set_ylabel('SSC', fontsize=10.5, color=TEXT, labelpad=5)
bg.text(43, 38, 'x1000', fontsize=6.8, color=TICK, va='center', ha='center')
bg.text(278, 292, 'x1000', fontsize=6.8, color=TICK, va='center', ha='center')

# ----- Trigger Pulse Width / FSC -----
ax2 = pixel_axes(fig, 371.7, 31.7, 607.3, 258.3)
style_axes(ax2)
density(ax2, P2_GX, P2_GY, P2_HAZE, '#ff2020', scale=0.8)
ax2.scatter(P2_DOTS_X, P2_DOTS_Y, s=2, color='#f01818', lw=0, zorder=3)
ax2.fill(P2_RED_CORE_X, P2_RED_CORE_Y, color='#ff0808', lw=0, zorder=3)
ax2.fill(P2_BLUE_X, P2_BLUE_Y, color='#2a10f0', lw=0, zorder=4)
ax2.fill(P2_MAG_X, P2_MAG_Y, color='#c018f0', lw=0, alpha=0.7, zorder=4)
ax2.scatter(P2_HOLE_X, P2_HOLE_Y, s=2, color='#e8b0ff', lw=0, zorder=5)
ax2.add_patch(Polygon(np.column_stack([P2_GATE_X, P2_GATE_Y]), closed=True, fill=False, edgecolor='#1f9f55', lw=1.2, zorder=6))
ax2.text(5.4, 57.3, 'P2', color='#1f9f55', fontsize=10.5, va='center', zorder=7)
ax2.set_xlim(0, 18.67)
ax2.set_ylim(0, 58.9)
ax2.set_xticks([0, 5, 10, 15])
ax2.set_xticks(np.arange(0, 18.5, 1), minor=True)
ax2.set_yticks(range(0, 51, 10))
ax2.set_yticks(range(0, 58, 2), minor=True)
ax2.set_xlabel('Trigger Pulse Width', fontsize=10, color=TEXT, labelpad=6)
ax2.set_ylabel('FSC', fontsize=10.5, color=TEXT, labelpad=2)
bg.text(358, 27, 'x1000', fontsize=6.8, color=TICK, va='center', ha='center')
bg.text(593, 281, 'x1000', fontsize=6.8, color=TICK, va='center', ha='center')

# ----- FSC / DAPI -----
# density layers sit on a plain axes in decades under the log axes
under = pixel_axes(fig, 675, 34, 917.3, 259.3)
under.axis('off')
decades = list(np.log10(P3_Y))
density(under, P3_X, decades, P3_BLACK, '#000000', scale=0.9)
density(under, P3_X, decades, P3_GREEN, '#0a8a2a')
density(under, P3_X, decades, P3_BLUE, '#1010f0')
density(under, P3_X, decades, P3_MAGENTA, '#e010e0')
under.set_xlim(0, 65.4)
under.set_ylim(0, 4)

ax3 = pixel_axes(fig, 675, 34, 917.3, 259.3)
ax3.patch.set_visible(False)
ax3.set_yscale('log')
style_axes(ax3)
ax3.fill(P3_SOLID_X, P3_SOLID_Y, color='black', lw=0, zorder=3)
ax3.scatter(P3_HOLE_X, P3_HOLE_Y, s=1.6, color='white', lw=0, zorder=3)
ax3.scatter(P3_DOTS_X, P3_DOTS_Y, s=1.8, color='#202020', lw=0, zorder=3)
ax3.scatter(P3_GDOTS_X, P3_GDOTS_Y, s=2, color='#2ea55a', lw=0, zorder=3)
ax3.scatter(P3_FAINT_X, P3_FAINT_Y, s=2, c=P3_FAINT_COL, lw=0, zorder=5)
ax3.plot(P3_RIGHT_X, P3_RIGHT_Y, color='#333333', lw=1, zorder=3)
ax3.add_patch(Polygon(np.column_stack([P3_GATE_X, P3_GATE_Y]), closed=False, fill=False, edgecolor='#3a4ae8', lw=1.3, zorder=6))
ax3.text(9.2, 70, 'P3', color='#2020e0', fontsize=10.5, va='center', zorder=7)
ax3.set_xlim(0, 65.4)
ax3.set_ylim(1, 10000)
ax3.set_xticks(range(0, 61, 10))
ax3.set_yticks([1, 10, 100, 1000, 10000])
ax3.minorticks_off()
ax3.tick_params(axis='y', labelsize=7.5)
ax3.set_xlabel('FSC', fontsize=10.5, color=TEXT, labelpad=7)
ax3.set_ylabel('*[405] 460/50-DAPI', fontsize=9.5, color=TEXT, labelpad=1)
bg.text(904, 283, 'x1000', fontsize=6.8, color=TICK, va='center', ha='center')

# ----- populations table -----
bg.add_patch(FancyBboxPatch((192.5, 322.5), 481, 300, boxstyle='round,pad=0,rounding_size=5',
                            facecolor='white', edgecolor='#5c5c5c', lw=1.3))
bg.text(198, 339, 'Populations: ', fontsize=10, color=TEXT, va='center')
bg.text(281, 339, TITLE, fontsize=10, style='italic', color=TEXT, va='center')

head = np.linspace(0.97, 0.66, 24).reshape(-1, 1)
bg.imshow(head, extent=(198, 669, 381, 357), cmap='gray', vmin=0, vmax=1, aspect='auto', zorder=1)
COL_SEP = [385, 479.5, 574]
for label, x in zip(HEADERS, [203, 392, 485, 579]):
    bg.text(x, 368, label, fontsize=9, color=TEXT, va='center', zorder=3)

ROW_H = 22.8
for i, name in enumerate(POP_NAMES):
    yc = 392.7 + i * ROW_H
    if i % 2 == 1:
        bg.add_patch(Rectangle((198, yc - ROW_H / 2), 471, ROW_H, facecolor='#f5f5f5', edgecolor='none', zorder=1))
    sx = 212.7 + POP_INDENT[i] * 9.65
    bg.add_patch(FancyBboxPatch((sx - 7, yc - 7), 14, 14, boxstyle='round,pad=0,rounding_size=3',
                                facecolor=POP_FILL[i], edgecolor=POP_EDGE[i], lw=1.2, zorder=3))
    bg.text(sx + 15.5, yc + 0.5, name, fontsize=9, color=TEXT, va='center', zorder=3)
    bg.text(475, yc, POP_EVENTS[i], fontsize=9, color=TEXT, va='center', ha='right', zorder=3)
    bg.text(570, yc, POP_TOTAL[i], fontsize=9, color=TEXT, va='center', ha='right', zorder=3)
    bg.text(664, yc, POP_PARENT[i], fontsize=9, color=TEXT, va='center', ha='right', zorder=3)
for x in COL_SEP:
    bg.plot([x, x], [381, 586], color='#ececec', lw=1, zorder=2)
bg.set_xlim(0, 924)
bg.set_ylim(590, 0)

fig.savefig('out.png', dpi=100)
